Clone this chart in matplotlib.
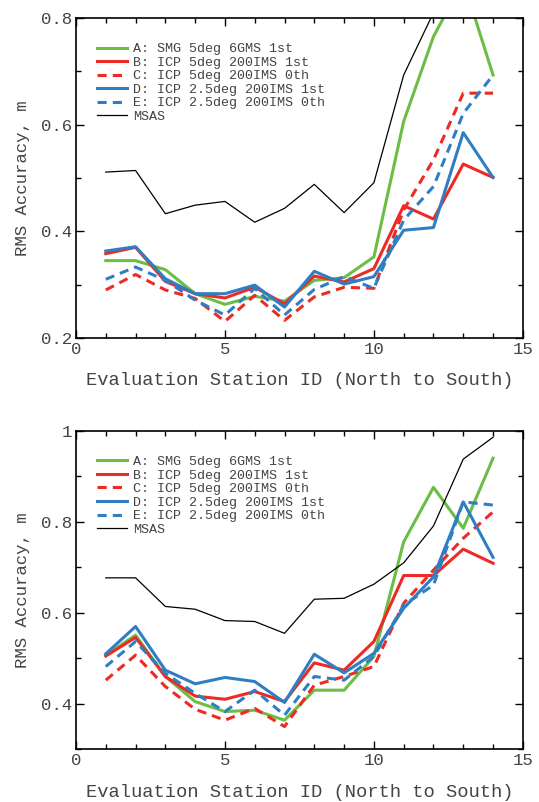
import matplotlib
matplotlib.use("Agg")
import matplotlib.pyplot as plt
from matplotlib.ticker import MultipleLocator

stations = list(range(1, 15))

labels = [
    "A: SMG 5deg 6GMS 1st",
    "B: ICP 5deg 200IMS 1st",
    "C: ICP 5deg 200IMS 0th",
    "D: ICP 2.5deg 200IMS 1st",
    "E: ICP 2.5deg 200IMS 0th",
    "MSAS",
]

# top panel
top_A = [0.345, 0.345, 0.328, 0.283, 0.263, 0.278, 0.269, 0.308, 0.313, 0.352, 0.606, 0.765, 0.870, 0.693]
top_B = [0.358, 0.370, 0.306, 0.283, 0.275, 0.295, 0.264, 0.316, 0.305, 0.330, 0.448, 0.423, 0.526, 0.501]
top_C = [0.290, 0.319, 0.290, 0.274, 0.231, 0.280, 0.233, 0.277, 0.295, 0.293, 0.440, 0.534, 0.659, 0.659]
top_D = [0.363, 0.371, 0.311, 0.283, 0.283, 0.299, 0.258, 0.325, 0.301, 0.315, 0.402, 0.407, 0.585, 0.501]
top_E = [0.310, 0.333, 0.308, 0.271, 0.243, 0.293, 0.243, 0.291, 0.315, 0.293, 0.421, 0.484, 0.621, 0.693]
top_M = [0.511, 0.514, 0.433, 0.449, 0.456, 0.417, 0.443, 0.488, 0.435, 0.491, 0.693, 0.810, 0.860, 0.900]

# bottom panel
bot_A = [0.507, 0.551, 0.460, 0.405, 0.383, 0.386, 0.364, 0.430, 0.430, 0.504, 0.756, 0.876, 0.786, 0.940]
bot_B = [0.505, 0.546, 0.460, 0.417, 0.410, 0.427, 0.405, 0.490, 0.474, 0.537, 0.682, 0.682, 0.740, 0.709]
bot_C = [0.452, 0.507, 0.438, 0.388, 0.364, 0.390, 0.350, 0.441, 0.460, 0.482, 0.621, 0.694, 0.764, 0.822]
bot_D = [0.510, 0.570, 0.474, 0.444, 0.458, 0.449, 0.403, 0.509, 0.468, 0.511, 0.610, 0.679, 0.844, 0.722]
bot_E = [0.482, 0.537, 0.467, 0.423, 0.383, 0.430, 0.375, 0.460, 0.452, 0.504, 0.617, 0.661, 0.844, 0.837]
bot_M = [0.677, 0.677, 0.614, 0.608, 0.583, 0.581, 0.555, 0.630, 0.632, 0.663, 0.710, 0.791, 0.938, 0.986]

green = "#6cbd45"
red = "#ee2a24"
blue = "#2f7ec4"
dash = (0, (3, 2))
styles = [
    dict(color=green, lw=2.2, ls="-"),
    dict(color=red, lw=2.2, ls="-"),
    dict(color=red, lw=2.2, ls=dash),
    dict(color=blue, lw=2.2, ls="-"),
    dict(color=blue, lw=2.2, ls=dash),
    dict(color="black", lw=0.9, ls="-"),
]

mono = "Liberation Mono"
txt = "#444444"

fig = plt.figure(figsize=(5.39, 8.02), dpi=100)
ax1 = fig.add_axes([0.141, 0.5786, 0.829, 0.399])
ax2 = fig.add_axes([0.141, 0.0657, 0.829, 0.397])


def draw(ax, series, ylo, yhi):
    for vals, lab, st in zip(series, labels, styles):
        ax.plot(stations, vals, label=lab, **st)
    ax.set_xlim(0, 15)
    ax.set_ylim(ylo, yhi)
    ax.xaxis.set_major_locator(MultipleLocator(5))
    ax.xaxis.set_minor_locator(MultipleLocator(1))
    ax.yaxis.set_major_locator(MultipleLocator(0.2))
    ax.yaxis.set_minor_locator(MultipleLocator(0.1))
    ax.tick_params(which="both", direction="in", top=True, right=True,
                   width=1.0, colors="black", labelcolor=txt)
    ax.tick_params(which="major", length=6, pad=3, labelsize=12.5)
    ax.tick_params(which="minor", length=3.5)
    for lbl in ax.get_xticklabels() + ax.get_yticklabels():
        lbl.set_fontfamily(mono)
    for s in ax.spines.values():
        s.set_linewidth(1.2)
    ax.set_xlabel("Evaluation Station ID (North to South)", fontsize=13.5,
                  family=mono, color=txt, labelpad=11)
    ax.set_ylabel("RMS Accuracy, m", fontsize=12.5, family=mono, color=txt,
                  labelpad=8)
    leg = ax.legend(loc="upper left", bbox_to_anchor=(0.047, 0.922),
                    frameon=False, handlelength=2.25, handletextpad=0.45,
                    labelspacing=0.09, borderpad=0, borderaxespad=0,
                    prop=dict(family=mono, size=9.6))
    for t in leg.get_texts():
        t.set_color(txt)


draw(ax1, [top_A, top_B, top_C, top_D, top_E, top_M], 0.2, 0.8)
draw(ax2, [bot_A, bot_B, bot_C, bot_D, bot_E, bot_M], 0.3, 1.0)
ax2.yaxis.set_major_formatter(plt.FuncFormatter(lambda v, p: "1" if abs(v - 1) < 1e-9 else f"{v:.1f}"))
for lbl in ax2.get_yticklabels():
    lbl.set_fontfamily(mono)

fig.savefig("out.png", dpi=100)
